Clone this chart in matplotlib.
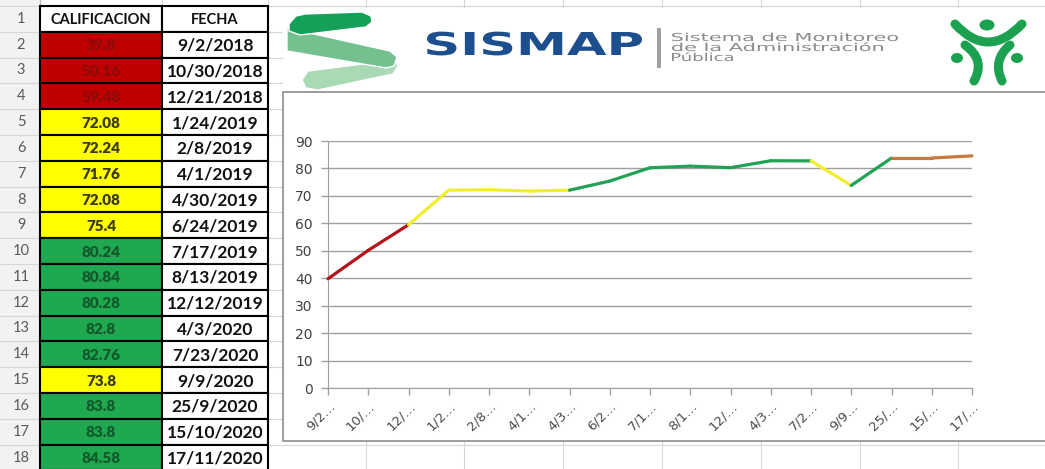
import numpy as np
import matplotlib
matplotlib.use("Agg")
import matplotlib.pyplot as plt
from matplotlib.patches import Rectangle, Polygon, Ellipse, PathPatch
from matplotlib.path import Path
from matplotlib.textpath import TextPath
from matplotlib.font_manager import FontProperties
from matplotlib.transforms import Affine2D

# --- data ---
calificacion = [39.8, 50.16, 59.48, 72.08, 72.24, 71.76, 72.08, 75.4, 80.24,
                80.84, 80.28, 82.8, 82.76, 73.8, 83.8, 83.8, 84.58]
fechas = ["9/2/2018", "10/30/2018", "12/21/2018", "1/24/2019", "2/8/2019",
          "4/1/2019", "4/30/2019", "6/24/2019", "7/17/2019", "8/13/2019",
          "12/12/2019", "4/3/2020", "7/23/2020", "9/9/2020", "25/9/2020",
          "15/10/2020", "17/11/2020"]
# cell fill category of each row
nivel = ["rojo", "rojo", "rojo", "amarillo", "amarillo", "amarillo", "amarillo",
         "amarillo", "verde", "verde", "verde", "verde", "verde", "amarillo",
         "verde", "verde", "verde"]
# colour of each line segment between consecutive points
tramo = ["rojo", "rojo", "amarillo", "amarillo", "amarillo", "amarillo", "verde",
         "verde", "verde", "verde", "verde", "verde", "amarillo", "verde",
         "naranja", "naranja"]
# excel truncates the category labels
etiquetas = [f[:3] + "\u2026" for f in fechas]

cell_fill = {"rojo": "#C00000", "amarillo": "#FFFF00", "verde": "#1FA84F"}
cell_text = {"rojo": "#8E0A0A", "amarillo": "#3A3A10", "verde": "#0E5A2A"}
line_col = {"rojo": "#B5121B", "amarillo": "#F2EE2E", "verde": "#21A255",
            "naranja": "#C8773F"}

W, H = 1045, 469
ROW0, RH = 6, 25.8
COLS = [0, 40, 162, 268]
XL_COLS = [366, 464, 563, 662, 761, 860, 958]


def fit_text(ax, s, x, base, width, cap, color, weight="normal"):
    # stretch a text path to the width / cap height measured on the logo
    fp = FontProperties(family="DejaVu Sans", weight=weight)
    tp = TextPath((0, 0), s, size=1, prop=fp)
    capref = TextPath((0, 0), "H", size=1, prop=fp).get_extents().height
    ext = tp.get_extents()
    tr = Affine2D().translate(-ext.x0, 0).scale(width / ext.width, -cap / capref).translate(x, base)
    ax.add_patch(PathPatch(tr.transform_path(tp), fc=color, ec="none", zorder=5))


fig = plt.figure(figsize=(W / 100, H / 100), dpi=100)
base = fig.add_axes([0, 0, 1, 1])
base.set_xlim(0, W)
base.set_ylim(H, 0)
base.axis("off")

# spreadsheet background grid
base.add_patch(Rectangle((0, 0), COLS[1], H, fc="#F2F2F2", ec="none", zorder=0))
for k in range(19):
    y = ROW0 + k * RH
    base.plot([0, W], [y, y], color="#D6D6D6", lw=0.8, zorder=1)
for x in COLS[1:] + XL_COLS:
    base.plot([x, x], [0, H], color="#D6D6D6", lw=0.8, zorder=1)
base.plot([COLS[1], COLS[1]], [0, H], color="#BDBDBD", lw=1, zorder=1)

# row numbers
for k in range(18):
    base.text(21, ROW0 + (k + 0.5) * RH, str(k + 1), ha="center", va="center",
              fontsize=10.5, family="Lato", color="#5A5A5A", zorder=3)

# header row
for j, titulo in enumerate(["CALIFICACION", "FECHA"]):
    x0, x1 = COLS[j + 1], COLS[j + 2]
    base.add_patch(Rectangle((x0, ROW0), x1 - x0, RH, fc="white", ec="black", lw=1.5, zorder=2))
    base.text((x0 + x1) / 2, ROW0 + RH / 2 + 1, titulo, ha="center", va="center",
              fontsize=10.5, family="Lato", weight="bold", color="#111111", zorder=3)

# data rows
for i, (v, f, n) in enumerate(zip(calificacion, fechas, nivel)):
    y = ROW0 + (i + 1) * RH
    base.add_patch(Rectangle((COLS[1], y), COLS[2] - COLS[1], RH, fc=cell_fill[n],
                             ec="black", lw=1.5, zorder=2))
    base.add_patch(Rectangle((COLS[2], y), COLS[3] - COLS[2], RH, fc="white",
                             ec="black", lw=1.5, zorder=2))
    base.text((COLS[1] + COLS[2]) / 2, y + RH / 2 + 1, str(v), ha="center", va="center",
              fontsize=11, family="Lato", weight="heavy", color=cell_text[n], zorder=3)
    base.text((COLS[2] + COLS[3]) / 2, y + RH / 2 + 1, f, ha="center", va="center",
              fontsize=12.5, family="Lato", weight="bold", color="#111111", zorder=3)

# logo picture and chart object on top of the sheet
base.add_patch(Rectangle((283, 8), 770, 84, fc="white", ec="none", zorder=2))
base.add_patch(Rectangle((283, 92), 780, 349, fc="white", ec="#8C8C8C", lw=1.2, zorder=2))

# SISMAP ribbon
base.add_patch(Polygon([(308, 71), (394, 60), (398, 66), (393, 74), (318, 90), (306, 88), (302, 80)],
                       fc="#A9D9B5", ec="white", lw=1, joinstyle="round", zorder=3))
base.add_patch(Polygon([(287, 28), (296, 30), (390, 51), (397, 57), (394, 66), (386, 68), (287, 51)],
                       fc="#74C08F", ec="white", lw=1, joinstyle="round", zorder=3))
base.add_patch(Polygon([(289, 24), (296, 16), (305, 14), (362, 12), (371, 16), (372, 22),
                        (366, 27), (300, 35), (289, 31)],
                       fc="#15A05A", ec="white", lw=1, joinstyle="round", zorder=3))

fit_text(base, "SISMAP", 427, 55, 215, 23, "#1D4E8E", weight="bold")
base.add_patch(Rectangle((657, 28), 3.5, 40, fc="#A0A0A0", ec="none", zorder=3))
fit_text(base, "Sistema de Monitoreo", 672, 41, 226, 8, "#8A8A8A")
fit_text(base, "de la Administración", 672, 51, 211, 8, "#8A8A8A")
fit_text(base, "Pública", 672, 61, 61, 8, "#8A8A8A")

# people icon
verde_icono = "#1BA14F"
for pts in ([(955, 24), (988, 60), (1022, 24)],
            [(965, 45), (986, 60), (974, 81)],
            [(1010, 45), (992, 60), (1002, 81)]):
    p = Path(pts, [Path.MOVETO, Path.CURVE3, Path.CURVE3])
    base.add_patch(PathPatch(p, fill=False, ec=verde_icono, lw=6.5, capstyle="round", zorder=3))
base.add_patch(Ellipse((987, 25), 15, 11, fc=verde_icono, ec="none", zorder=3))
base.add_patch(Ellipse((957, 58), 12, 10, fc=verde_icono, ec="none", zorder=3))
base.add_patch(Ellipse((1017, 58), 12, 10, fc=verde_icono, ec="none", zorder=3))

# --- line chart ---
ax = fig.add_axes([328 / W, (H - 388) / H, 644 / W, 247 / H])
ax.set_facecolor("none")
x = np.arange(len(calificacion))
for i, c in enumerate(tramo):
    ax.plot(x[i:i + 2], calificacion[i:i + 2], color=line_col[c], lw=2.3,
            solid_capstyle="round", clip_on=False, zorder=3)

ax.set_xlim(0, len(calificacion) - 1)
ax.set_ylim(0, 90)
ax.set_yticks(range(0, 91, 10))
ax.yaxis.grid(True, color="#A0A0A0", lw=1)
ax.set_axisbelow(True)
ax.set_xticks(x)
ax.set_xticklabels(etiquetas, rotation=45, ha="right", rotation_mode="anchor",
                   fontsize=9.5, color="#4A4A4A")
for lab in ax.get_yticklabels():
    lab.set_fontsize(10)
    lab.set_color("#404040")
for s in ["top", "right"]:
    ax.spines[s].set_visible(False)
for s in ["left", "bottom"]:
    ax.spines[s].set_color("#A0A0A0")
ax.tick_params(axis="both", colors="#A0A0A0", length=5, width=1)
ax.tick_params(axis="y", pad=6, labelcolor="#404040")
ax.tick_params(axis="x", labelcolor="#4A4A4A")

fig.savefig("out.png", dpi=100)
